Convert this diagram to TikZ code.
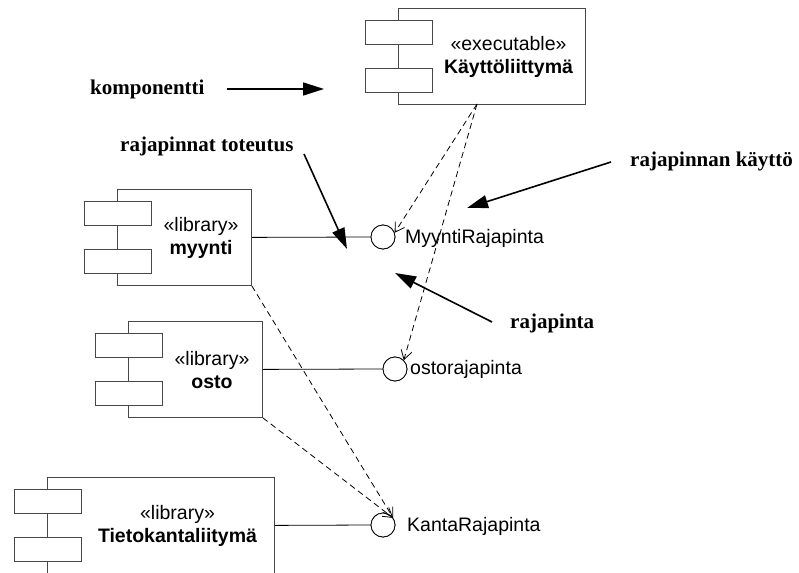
\documentclass[tikz,border=0pt]{standalone}
\usepackage{fontspec}
\setmainfont{Liberation Sans}
\newfontfamily\annofont{Liberation Serif}
\usetikzlibrary{arrows.meta}

% UML component: name, left x, top y, width, stereotype, title
\newcommand\umlcomp[6]{%
  \node[compbox, minimum width=#4] (#1) at (#2,#3) {};
  \node[compport] (#1-p1) at ({#2-33},{#3+12}) {};
  \node[compport] (#1-p2) at ({#2-33},{#3+60}) {};
  \node[comptext] (#1-txt) at ({#2+(34+#4)/2},{#3+49}) {«#5»\\\textbf{#6}};
}

\begin{document}
\begin{tikzpicture}[x=1pt,y=-1pt,
  compbox/.style={draw=black!72, line width=0.8pt, fill=white, inner sep=0pt,
    anchor=north west, minimum height=96pt},
  compport/.style={draw=black!72, line width=0.8pt, fill=white, inner sep=0pt,
    anchor=north west, minimum width=67pt, minimum height=24pt},
  comptext/.style={align=center, inner sep=0pt,
    font=\fontsize{19.5}{23.5}\selectfont},
  iface/.style={circle, draw, line width=0.8pt, fill=white, inner sep=0pt,
    minimum size=24pt},
  ilabel/.style={anchor=base west, inner sep=0pt,
    font=\fontsize{19.5}{23.5}\selectfont},
  conn/.style={line width=0.8pt},
  dep/.style={line width=0.8pt, dash pattern=on 6pt off 4pt,
    -{Straight Barb[length=9pt,width=11pt]}},
  anno/.style={anchor=base west, inner sep=0pt,
    font=\annofont\bfseries\fontsize{21}{25}\selectfont},
  annoarrow/.style={line width=1.6pt, -{Triangle[length=21pt,width=13pt]}},
]
\useasboundingbox (0,0) rectangle (799,572);

% interface circles (positions first, so the lines can reach them)
\node[iface] (mr) at (383,237) {};
\node[iface] (or) at (395,369) {};
\node[iface] (kr) at (383,525) {};

\umlcomp{ui}{398}{8}{187}{executable}{Käyttöliittymä}
\umlcomp{myynti}{117}{189}{134}{library}{myynti}
\umlcomp{osto}{128}{321}{134}{library}{osto}
\umlcomp{tk}{47}{477}{227}{library}{Tietokantaliitymä}

\draw[conn] (myynti.east) -- (mr.west);
\draw[conn] (osto.east) -- (or.west);
\draw[conn] (tk.east) -- (kr.west);

% interfaces on top of the lines
\node[iface] at (mr) {};
\node[iface] at (or) {};
\node[iface] at (kr) {};

\node[ilabel] (mrl) at (405,243) {MyyntiRajapinta};
\node[ilabel] (orl) at (410,374) {ostorajapinta};
\node[ilabel] (krl) at (407,531) {KantaRajapinta};

% dependencies
\coordinate (uidep) at (477,104);
\draw[dep] (uidep) -- (mr.20);
\draw[dep] (uidep) -- (or.45);
\draw[dep] (myynti.south east) -- (kr.35);
\draw[dep] (osto.south east) -- (kr.35);

% annotations
\node[anno] (a-komp) at (90,95) {komponentti};
\node[anno] (a-tot) at (120,151) {rajapinnat toteutus};
\node[anno] (a-kay) at (630,166) {rajapinnan käyttö};
\node[anno] (a-raj) at (510,328) {rajapinta};

\coordinate (komp-tail) at (227,89);
\coordinate (komp-tip) at (324,89);
\coordinate (tot-tail) at (304,154);
\coordinate (tot-tip) at (347,249);
\coordinate (kay-tail) at (611,162);
\coordinate (kay-tip) at (467,208);
\coordinate (raj-tail) at (492,322);
\coordinate (raj-tip) at (395,273);

\draw[annoarrow] (komp-tail) -- (komp-tip);
\draw[annoarrow] (tot-tail) -- (tot-tip);
\draw[annoarrow] (kay-tail) -- (kay-tip);
\draw[annoarrow] (raj-tail) -- (raj-tip);
\end{tikzpicture}
\end{document}
